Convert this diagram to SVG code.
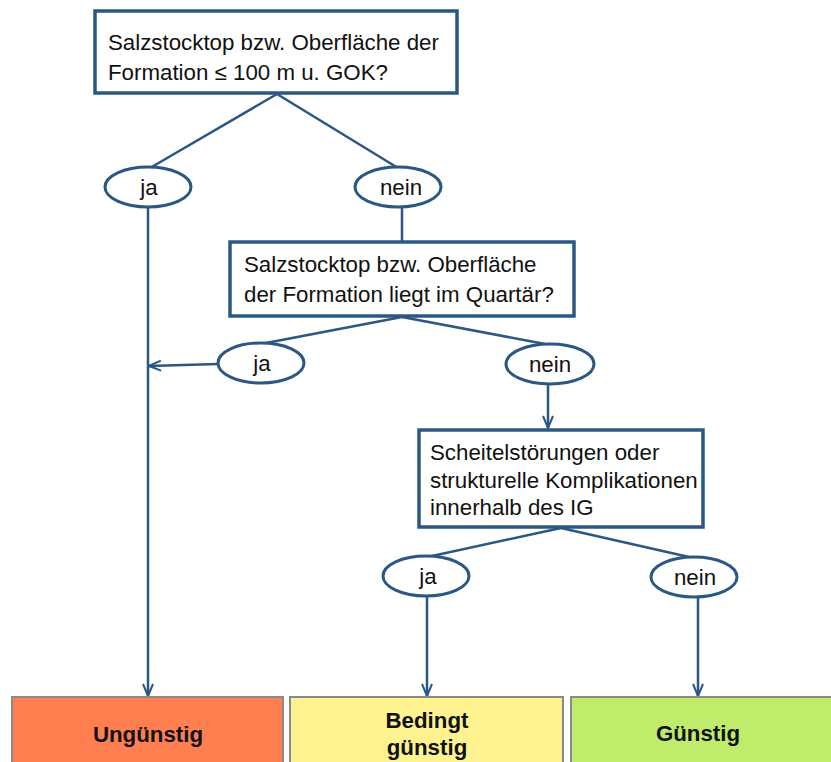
<svg xmlns="http://www.w3.org/2000/svg" width="831" height="762" viewBox="0 0 831 762">
  <defs>
    <marker id="arrow" viewBox="0 0 14 12" refX="13" refY="6" markerWidth="14" markerHeight="12" markerUnits="userSpaceOnUse" orient="auto">
      <path d="M1,1 L13,6 L1,11" fill="none" stroke="#2A5783" stroke-width="2"/>
    </marker>
  </defs>
  <style>
    .q rect { fill: #ffffff; stroke: #2A5783; stroke-width: 3.5; }
    .q text { font-family: "Liberation Sans", Arial, sans-serif; font-size: 22.3px; fill: #111111; }
    .a ellipse { fill: #ffffff; stroke: #2A5783; stroke-width: 3; }
    .a text { font-family: "Liberation Sans", Arial, sans-serif; font-size: 22.3px; fill: #111111; text-anchor: middle; }
    .r rect { stroke: #8A8A8A; stroke-width: 2; }
    .r text { font-family: "Liberation Sans", Arial, sans-serif; font-size: 22.3px; font-weight: bold; fill: #111111; text-anchor: middle; }
    .c line, .c path { stroke: #2A5783; stroke-width: 2.5; fill: none; }
  </style>
  <rect width="831" height="762" fill="#ffffff"/>

  <!-- connectors -->
  <g id="connectors" class="c">
    <line x1="277" y1="94" x2="150" y2="168"/>
    <line x1="277" y1="94" x2="398" y2="168"/>
    <line x1="148" y1="207" x2="148" y2="696" marker-end="url(#arrow)"/>
    <line x1="402" y1="207" x2="402" y2="241"/>
    <line x1="402" y1="317" x2="266" y2="343"/>
    <line x1="402" y1="317" x2="545" y2="344"/>
    <line x1="218" y1="364" x2="149" y2="366" marker-end="url(#arrow)"/>
    <line x1="548" y1="384" x2="548" y2="428" marker-end="url(#arrow)"/>
    <line x1="561" y1="528" x2="432" y2="556"/>
    <line x1="561" y1="528" x2="689" y2="557"/>
    <line x1="427" y1="596" x2="427" y2="696" marker-end="url(#arrow)"/>
    <line x1="698" y1="597" x2="698" y2="696" marker-end="url(#arrow)"/>
  </g>

  <!-- question boxes -->
  <g id="q1" class="q">
    <rect x="95" y="11" width="362" height="82"/>
    <text x="108" y="50">Salzstocktop bzw. Oberfläche der</text>
    <text x="108" y="80">Formation ≤ 100 m u. GOK?</text>
  </g>
  <g id="q2" class="q">
    <rect x="230" y="242" width="344" height="74"/>
    <text x="244" y="272">Salzstocktop bzw. Oberfläche</text>
    <text x="244" y="302">der Formation liegt im Quartär?</text>
  </g>
  <g id="q3" class="q">
    <rect x="419" y="430" width="284" height="97"/>
    <text x="430" y="460">Scheitelstörungen oder</text>
    <text x="430" y="488">strukturelle Komplikationen</text>
    <text x="430" y="515">innerhalb des IG</text>
  </g>

  <!-- answer ellipses -->
  <g id="a1-ja" class="a">
    <ellipse cx="148" cy="187" rx="43" ry="20"/>
    <text x="149" y="195">ja</text>
  </g>
  <g id="a1-nein" class="a">
    <ellipse cx="398" cy="187" rx="43" ry="20"/>
    <text x="401" y="195">nein</text>
  </g>
  <g id="a2-ja" class="a">
    <ellipse cx="261" cy="363" rx="43" ry="20"/>
    <text x="262" y="371">ja</text>
  </g>
  <g id="a2-nein" class="a">
    <ellipse cx="550" cy="364" rx="44" ry="20"/>
    <text x="550" y="372">nein</text>
  </g>
  <g id="a3-ja" class="a">
    <ellipse cx="426" cy="576" rx="43" ry="20"/>
    <text x="428" y="584">ja</text>
  </g>
  <g id="a3-nein" class="a">
    <ellipse cx="694" cy="577" rx="43" ry="20"/>
    <text x="695" y="585">nein</text>
  </g>

  <!-- result boxes -->
  <g id="r-ungunstig" class="r">
    <rect x="12" y="697" width="271" height="80" fill="#FF7F50"/>
    <text x="148" y="742">Ungünstig</text>
  </g>
  <g id="r-bedingt" class="r">
    <rect x="290" y="697" width="273" height="80" fill="#FFF38F"/>
    <text x="427" y="728">Bedingt</text>
    <text x="427" y="755">günstig</text>
  </g>
  <g id="r-gunstig" class="r">
    <rect x="571" y="697" width="280" height="80" fill="#BFEC6B"/>
    <text x="698" y="741">Günstig</text>
  </g>
</svg>
